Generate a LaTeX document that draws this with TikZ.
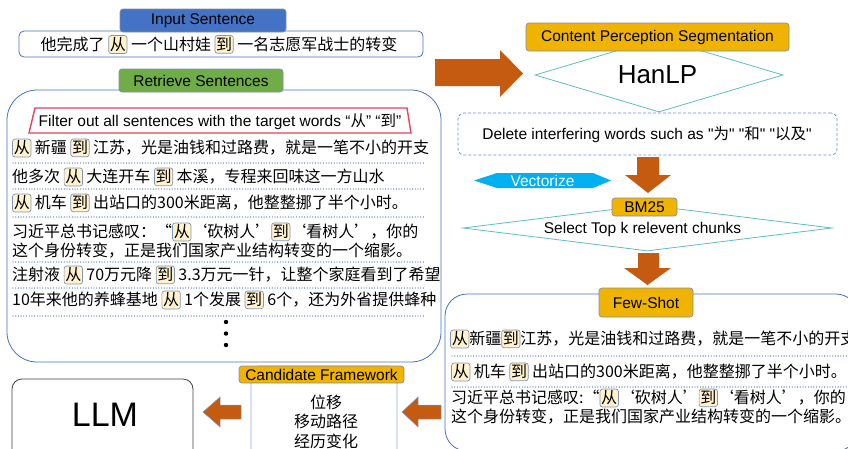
\documentclass[tikz,border=0pt]{standalone}
\usepackage{fontspec}
\setmainfont{Liberation Sans}
\newfontfamily\cjk{Noto Sans CJK SC}
\usetikzlibrary{shapes.geometric}
\definecolor{lblue}{HTML}{4472C4}
\definecolor{lgreen}{HTML}{70AD47}
\definecolor{lgold}{HTML}{F0B400}
\definecolor{arrorange}{HTML}{C55A11}
\definecolor{hlfill}{HTML}{FFF2CC}
\definecolor{hlborder}{HTML}{7F94B8}
\definecolor{redframe}{HTML}{E2435F}
\definecolor{vecblue}{HTML}{00B0F0}
\definecolor{diamedge}{HTML}{5DBDC4}
\definecolor{lblborder}{HTML}{7F8FA9}
\tikzset{
  hlbox/.style={fill=hlfill, draw=hlborder, line width=0.7pt, rounded corners=2.5pt, inner xsep=1.2pt, inner ysep=1.8pt},
  lbl/.style={draw=lblborder, line width=0.7pt, rounded corners=3pt, font=\fontsize{15.5}{18}\selectfont, text=black, inner sep=0pt},
  frame/.style={draw=lblue, line width=0.8pt},
  zh/.style={font=\fontsize{16}{20}\selectfont\cjk, inner sep=0pt, anchor=west},
  zhc/.style={font=\fontsize{16}{20}\selectfont\cjk, inner sep=0pt},
  en/.style={font=\fontsize{15.5}{18}\selectfont, inner sep=0pt},
  dotline/.style={lblue, line width=1.3pt, dash pattern=on 0pt off 2.7pt, line cap=round},
  sidearrow/.style={fill=arrorange, draw=lblue!70, line width=0.5pt},
}
\newcommand\hl[1]{\tikz[baseline=0pt]\node[hlbox,anchor=base]{#1};}
\newcommand\sq{\textquotedbl}
\begin{document}
\begin{tikzpicture}[x=1pt,y=-1pt]
\useasboundingbox (0,0) rectangle (848,448);
\clip (0,0) rectangle (848,448);

% Input sentence
\node[frame, rounded corners=5pt, minimum width=404pt, minimum height=26pt] (inbox) at (221,44) {};
\node[zhc] (intext) at (219,44.5) {他完成了 \hl{从} 一个山村娃 \hl{到} 一名志愿军战士的转变};
\node[lbl, fill=lblue, minimum width=166pt, minimum height=23pt] (inlbl) at (203,20.5) {Input Sentence};

% Retrieve sentences
\node[frame, rounded corners=30pt, minimum width=434pt, minimum height=272pt] (retr) at (224,226) {};
\node[lbl, fill=lgreen, minimum width=164pt, minimum height=23pt] (retrlbl) at (201,80.5) {Retrieve Sentences};
\draw[redframe, line width=1.4pt, fill=white] (35,108) -- (407,108) -- (411,133) -- (29,133) -- cycle;
\node[en] (filter) at (220,121.5) {Filter out all sentences with the target words “{\cjk 从}” “{\cjk 到}”};

\node[zh] (r1) at (12,148) {\hl{从} 新疆 \hl{到} 江苏，光是油钱和过路费，就是一笔不小的开支};
\draw[dotline] (13,163) -- (424,163);
\node[zh] (r2) at (12,177) {他多次 \hl{从} 大连开车 \hl{到} 本溪，专程来回味这一方山水};
\draw[dotline] (13,189) -- (424,189);
\node[zh] (r3) at (12,203) {\hl{从} 机车 \hl{到} 出站口的300米距离，他整整挪了半个小时。};
\draw[dotline] (13,217) -- (424,217);
\node[zh] (r4a) at (12,232) {习近平总书记感叹：“\hl{从}‘砍树人’\hl{到}‘看树人’，你的};
\node[zh] (r4b) at (12,251) {这个身份转变，正是我们国家产业结构转变的一个缩影。};
\draw[dotline] (13,262) -- (424,262);
\node[zh] (r5) at (12,275) {注射液 \hl{从} 70万元降 \hl{到} 3.3万元一针，让整个家庭看到了希望};
\draw[dotline] (13,288) -- (424,288);
\node[zh] (r6) at (12,300) {10年来他的养蜂基地 \hl{从} 1个发展 \hl{到} 6个，还为外省提供蜂种};
\draw[dotline] (13,316) -- (424,316);
\fill (226,322) circle (2.2pt) (226,333.5) circle (2.2pt) (226,345) circle (2.2pt);

% big right arrow
\fill[arrorange] (435,59) -- (500,59) -- (500,50) -- (523,73.5) -- (500,97) -- (500,86) -- (435,86) -- cycle;

% HanLP
\node[diamond, draw=diamedge, line width=0.8pt, minimum width=248pt, minimum height=74pt, inner sep=0pt] (hanlp) at (659,75) {};
\node[font=\fontsize{26}{30}\selectfont, inner sep=0pt] (hanlptext) at (657.5,75) {HanLP};
\node[lbl, fill=lgold, minimum width=263pt, minimum height=28pt] (cps) at (657.5,37) {Content Perception Segmentation};

% dashed box
\node[draw=lblue!80, dash pattern=on 3pt off 2pt, rounded corners=6pt, line width=0.7pt, minimum width=379pt, minimum height=42pt] (delbox) at (647.5,134) {};
\node[en] (deltext) at (647,135) {Delete interfering words such as \sq{\cjk 为}\sq{} \sq{\cjk 和}\sq{} \sq{\cjk 以及}\sq};

% down arrow 1
\fill[arrorange] (637,157) -- (659,157) -- (659,175) -- (671,175) -- (648,193) -- (625,175) -- (637,175) -- cycle;

% Vectorize
\fill[vecblue] (474,180.5) -- (497,173) -- (593,173) -- (611,180.5) -- (593,188) -- (497,188) -- cycle;
\node[en, text=white] (vec) at (542.5,180.5) {Vectorize};

% BM25 diamond
\node[diamond, draw=diamedge, line width=0.8pt, minimum width=369pt, minimum height=46pt, inner sep=0pt] (bm) at (647.5,228) {};
\node[en] (seltext) at (642.5,229) {Select Top k relevent chunks};
\node[lbl, fill=lgold, minimum width=65pt, minimum height=18pt] (bm25) at (644.5,207) {BM25};

% down arrow 2
\fill[arrorange] (638,253) -- (659,253) -- (659,268) -- (671,268) -- (647.5,285) -- (624,268) -- (638,268) -- cycle;

% Few-shot
\node[frame, rounded corners=22pt, minimum width=413pt, minimum height=157pt] (fsbox) at (651.5,372.5) {};
\node[lbl, fill=lgold, minimum width=94pt, minimum height=29pt] (fslbl) at (646,302.5) {Few-Shot};
\node[zh] (f1) at (450,339) {\hl{从}新疆\hl{到}江苏，光是油钱和过路费，就是一笔不小的开支};
\draw[dotline] (452,356) -- (848,356);
\node[zh] (f2) at (451,372) {\hl{从} 机车 \hl{到} 出站口的300米距离，他整整挪了半个小时。};
\draw[dotline] (452,387) -- (848,387);
\node[zh] (f3a) at (451,398) {习近平总书记感叹:“\hl{从}‘砍树人’\hl{到}‘看树人’，你的};
\node[zh] (f3b) at (451,417) {这个身份转变，正是我们国家产业结构转变的一个缩影。};

% left arrows
\filldraw[sidearrow] (441,405) -- (418,405) -- (418,397) -- (402,412) -- (418,427) -- (418,419) -- (441,419) -- cycle;
\filldraw[sidearrow] (241,405) -- (220,405) -- (220,397) -- (203,412) -- (220,427) -- (220,419) -- (241,419) -- cycle;

% Candidate framework
\node[draw=lblue!60, line width=0.7pt, rounded corners=8pt, minimum width=146pt, minimum height=100pt] (cand) at (324,416) {};
\node[lbl, fill=lgold, minimum width=165pt, minimum height=17pt] (candlbl) at (321.5,374.5) {Candidate Framework};
\node[zhc] (c1) at (326,402) {位移};
\node[zhc] (c2) at (326,421.5) {移动路径};
\node[zhc] (c3) at (326,441) {经历变化};

% LLM
\node[draw=black!75, line width=0.8pt, rounded corners=10pt, minimum width=181pt, minimum height=90pt] (llm) at (102.5,424) {};
\node[font=\fontsize{34}{40}\selectfont, inner sep=0pt] (llmtext) at (105,414.5) {LLM};
\end{tikzpicture}
\end{document}
